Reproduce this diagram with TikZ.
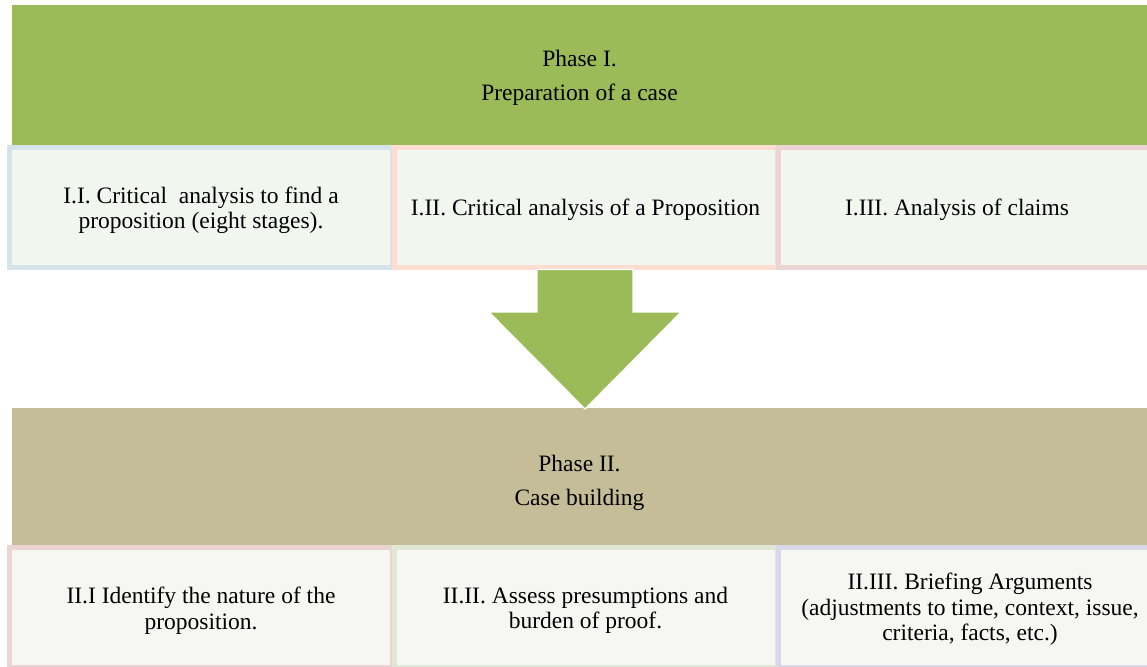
\documentclass[tikz,border=0pt]{standalone}
\usepackage{fontspec}
\setmainfont{Liberation Serif}
\definecolor{phgreen}{HTML}{9BBB59}
\definecolor{phtan}{HTML}{C4BD97}
\definecolor{fillA}{HTML}{F3F6EE}
\definecolor{fillB}{HTML}{F6F7F3}
\definecolor{bdBlue}{HTML}{D5E3EB}
\definecolor{bdSalmon}{HTML}{FBDDD2}
\definecolor{bdPink}{HTML}{EBD4D4}
\definecolor{bdGreen}{HTML}{E0E8D5}
\definecolor{bdLav}{HTML}{DAD8E7}
\begin{document}
\begin{tikzpicture}[x=1pt,y=-1pt,
  header/.style={draw=none,inner sep=0pt,minimum width=1135pt,minimum height=140pt},
  htext/.style={inner sep=0pt,align=center,font=\fontsize{23.5}{34}\selectfont},
  sub/.style={line width=5pt,inner sep=0pt,minimum width=383pt,minimum height=120pt},
  stext/.style={inner sep=0pt,align=center,font=\fontsize{23.5}{25.5}\selectfont},
  subA/.style={sub,fill=fillA},
  subB/.style={sub,fill=fillB}]
\useasboundingbox (0,0) rectangle (1147,666);
\begin{scope}
\clip (0,0) rectangle (1147,666);
% Phase I
\node[header,fill=phgreen] (p1) at (579.5,75) {};
\node[htext] (p1t) at ([yshift=-3pt]p1.center) {Phase I.\\Preparation of a case};
\node[subA,draw=bdBlue] (a1) at (201,207.5) {};
\node[stext] (a1t) at ([yshift=-3pt]a1.center) {I.I. Critical\ \ analysis to find a\\proposition (eight stages).};
\node[subA,draw=bdSalmon] (a2) at (585.5,207.5) {};
\node[stext] (a2t) at ([yshift=-2pt]a2.center) {I.II. Critical analysis of a Proposition};
\node[subA,draw=bdPink] (a3) at (970,207.5) {};
\node[stext] (a3t) at ([xshift=-13pt,yshift=-2pt]a3.center) {I.III. Analysis of claims};
% Phase II
\node[header,fill=phtan] (p2) at (579.5,478) {};
\node[htext] (p2t) at ([yshift=-5pt]p2.center) {Phase II.\\Case building};
\node[subB,draw=bdPink] (b1) at (201,607.5) {};
\node[stext] (b1t) at ([yshift=-3pt]b1.center) {II.I Identify the nature of the\\proposition.};
\node[subB,draw=bdGreen] (b2) at (585.5,607.5) {};
\node[stext] (b2t) at ([yshift=-3pt]b2.center) {II.II. Assess presumptions and\\burden of proof.};
\node[subB,draw=bdLav] (b3) at (970,607.5) {};
\node[stext] (b3t) at ([yshift=-2pt]b3.center) {II.III. Briefing Arguments\\(adjustments to time, context, issue,\\criteria, facts, etc.)};
% block arrow
\fill[phgreen,draw=white,line width=1.2pt]
  (537,269.5) -- (633,269.5) -- (633,312) -- (681,312) -- (585,409) -- (489,312) -- (537,312) -- cycle;
\end{scope}
\end{tikzpicture}
\end{document}
